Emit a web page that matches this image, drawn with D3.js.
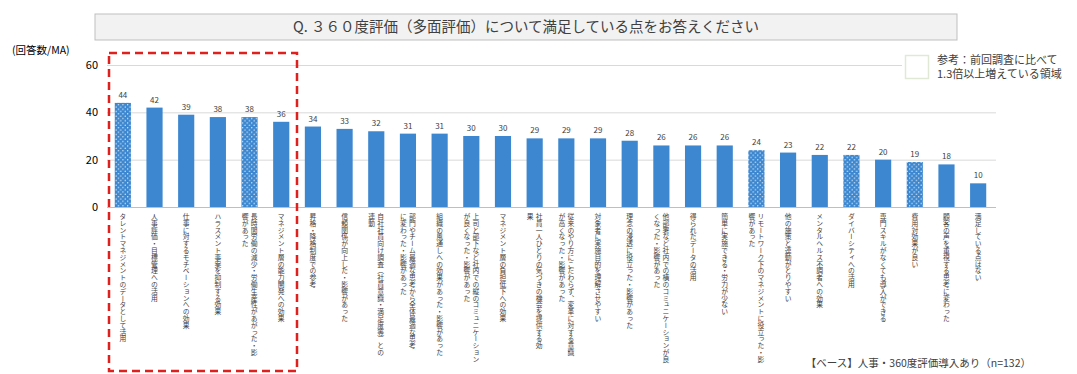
<!DOCTYPE html>
<html>
<head>
<meta charset="utf-8">
<script src="https://cdn.jsdelivr.net/npm/d3@7"></script>
<style>
  body { margin: 0; background: #fff; }
  svg text { font-family: "Noto Sans CJK JP", "Noto Sans", sans-serif; }
</style>
</head>
<body>
<script>
// categories, "\n" marks where the label wraps to a second column
var categories = [
  'タレントマネジメントのデータとして活用',
  '人事評価・目標管理への活用',
  '仕事に対するモチベーションへの効果',
  'ハラスメント事案を抑制する効果',
  '長時間労働の減少・労働生産性があがった・影\n響があった',
  'マネジメント層の能力開発への効果',
  '昇格・降格制度での参考',
  '信頼関係が向上した・影響があった',
  '自社社員向け調査（社員意識・満足度等）との\n連動',
  '部門やチーム最適な思考から全体最適な思考\nに変わった・影響があった',
  '組織の風通しへの効果があった・影響があった',
  '上司と部下など社内での縦のコミュニケーション\nが良くなった・影響があった',
  'マネジメント層の負担低下への効果',
  '社員一人ひとりの気づきの機会を提供する効\n果',
  '従来のやり方にこだわらず、変革に対する意識\nが高くなった・影響があった',
  '対象者に実施目的を理解させやすい',
  '理念の浸透に役立った・影響があった',
  '他部署など社内での横のコミュニケーションが良\nくなった・影響があった',
  '得られたデータの活用',
  '簡単に実施できる・労力が少ない',
  'リモートワーク下のマネジメントに役立った・影\n響があった',
  '他の施策と連動がとりやすい',
  'メンタルヘルス不調者への効果',
  'ダイバーシティへの活用',
  '専門スキルがなくても導入ができる',
  '費用対効果が良い',
  '顧客の声を重視する思考に変わった',
  '満足している点はない'
]
var values = [44, 42, 39, 38, 38, 36, 34, 33, 32, 31, 31, 30, 30, 29, 29, 29, 28, 26, 26, 26, 24, 23, 22, 22, 20, 19, 18, 10]
// 1 = grew 1.3x or more vs previous survey (dotted bars)
var increased = [1, 0, 0, 0, 1, 0, 0, 0, 0, 0, 0, 0, 0, 0, 0, 0, 0, 0, 0, 0, 1, 0, 0, 1, 0, 1, 0, 0]
var yTicks = [0, 20, 40, 60]

var title = 'Q. ３６０度評価（多面評価）について満足している点をお答えください'
var yUnit = '(回答数/MA)'
var legendLines = ['参考：前回調査に比べて', '1.3倍以上増えている領域']
var footer = '【ベース】人事・360度評価導入あり（n=132）'

var W = 1077, H = 374
var barColor = '#3c87cf'

var svg = d3.select('body').append('svg')
  .attr('width', W)
  .attr('height', H)

// dotted fill
var defs = svg.append('defs')
var pat = defs.append('pattern')
  .attr('id', 'dots')
  .attr('patternUnits', 'userSpaceOnUse')
  .attr('width', 4.6)
  .attr('height', 4.6)
pat.append('rect').attr('width', 4.6).attr('height', 4.6).attr('fill', barColor)
pat.append('circle').attr('cx', 1.1).attr('cy', 1.1).attr('r', 0.65).attr('fill', '#fff')
pat.append('circle').attr('cx', 3.4).attr('cy', 3.4).attr('r', 0.65).attr('fill', '#fff')

// title box
svg.append('rect')
  .attr('x', 95).attr('y', 14)
  .attr('width', 862).attr('height', 26)
  .attr('fill', '#f2f2f2')
  .attr('stroke', '#bfbfbf')
svg.append('text')
  .attr('x', 526).attr('y', 32)
  .attr('text-anchor', 'middle')
  .attr('font-size', 14.5)
  .attr('fill', '#404040')
  .text(title)

svg.append('text')
  .attr('x', 12).attr('y', 54)
  .attr('font-size', 10.5)
  .attr('fill', '#000')
  .text(yUnit)

// scales
var x = d3.scaleBand()
  .domain(d3.range(categories.length))
  .range([107, 994])
  .paddingInner(0.49)
  .paddingOuter(0.245)
var y = d3.scaleLinear()
  .domain([0, 60])
  .range([207, 65])

// gridlines
svg.append('g')
  .selectAll('line')
  .data(yTicks)
  .enter()
  .append('line')
  .attr('x1', 107).attr('x2', 996)
  .attr('y1', function (d) { return y(d) + 0.5 })
  .attr('y2', function (d) { return y(d) + 0.5 })
  .attr('stroke', function (d) { return d === 0 ? '#bfbfbf' : '#d9d9d9' })

// y axis labels
var yAxis = d3.axisLeft(y).tickValues(yTicks).tickSize(0).tickPadding(0)
var ya = svg.append('g')
  .attr('transform', 'translate(98,0)')
  .call(yAxis)
ya.select('.domain').remove()
ya.selectAll('text')
  .attr('font-size', 11)
  .attr('fill', '#000')
  .style('font-family', '"Noto Sans CJK JP", sans-serif')

// bars
svg.append('g')
  .selectAll('rect')
  .data(values)
  .enter()
  .append('rect')
  .attr('x', function (d, i) { return x(i) })
  .attr('y', function (d) { return y(d) })
  .attr('width', x.bandwidth())
  .attr('height', function (d) { return y(0) - y(d) })
  .attr('fill', function (d, i) { return increased[i] ? 'url(#dots)' : barColor })

// value labels
svg.append('g')
  .selectAll('text')
  .data(values)
  .enter()
  .append('text')
  .attr('x', function (d, i) { return x(i) + x.bandwidth() / 2 })
  .attr('y', function (d) { return y(d) - 5 })
  .attr('text-anchor', 'middle')
  .attr('font-size', 8)
  .attr('fill', '#404040')
  .text(function (d) { return d })

// vertical category labels
var lab = svg.append('g')
categories.forEach(function (c, i) {
  var lines = c.split('\n')
  var cx = x(i) + x.bandwidth() / 2
  lines.forEach(function (ln, j) {
    lab.append('text')
      .attr('x', cx + (lines.length - 1) * 4.5 - j * 9)
      .attr('y', 213)
      .style('writing-mode', 'vertical-rl')
      .attr('font-size', 6.8)
      .attr('fill', '#404040')
      .text(ln)
  })
})

// legend
svg.append('rect')
  .attr('x', 902).attr('y', 52)
  .attr('width', 175).attr('height', 30)
  .attr('fill', '#fff')
svg.append('rect')
  .attr('x', 905.5).attr('y', 55.5)
  .attr('width', 23).attr('height', 23)
  .attr('fill', '#fff')
  .attr('stroke', '#dfe9d6')
  .attr('stroke-width', 1.5)
svg.append('g')
  .selectAll('text')
  .data(legendLines)
  .enter()
  .append('text')
  .attr('x', 937)
  .attr('y', function (d, i) { return 64 + i * 14 })
  .attr('font-size', 11)
  .attr('fill', '#404040')
  .text(function (d) { return d })

// highlight frame
svg.append('rect')
  .attr('x', 109).attr('y', 53)
  .attr('width', 188).attr('height', 318)
  .attr('fill', 'none')
  .attr('stroke', '#e0201f')
  .attr('stroke-width', 2.5)
  .attr('stroke-dasharray', '8,5')

// base note
svg.append('text')
  .attr('x', 1031).attr('y', 367)
  .attr('text-anchor', 'end')
  .attr('font-size', 10.5)
  .attr('fill', '#404040')
  .text(footer)
</script>
</body>
</html>
